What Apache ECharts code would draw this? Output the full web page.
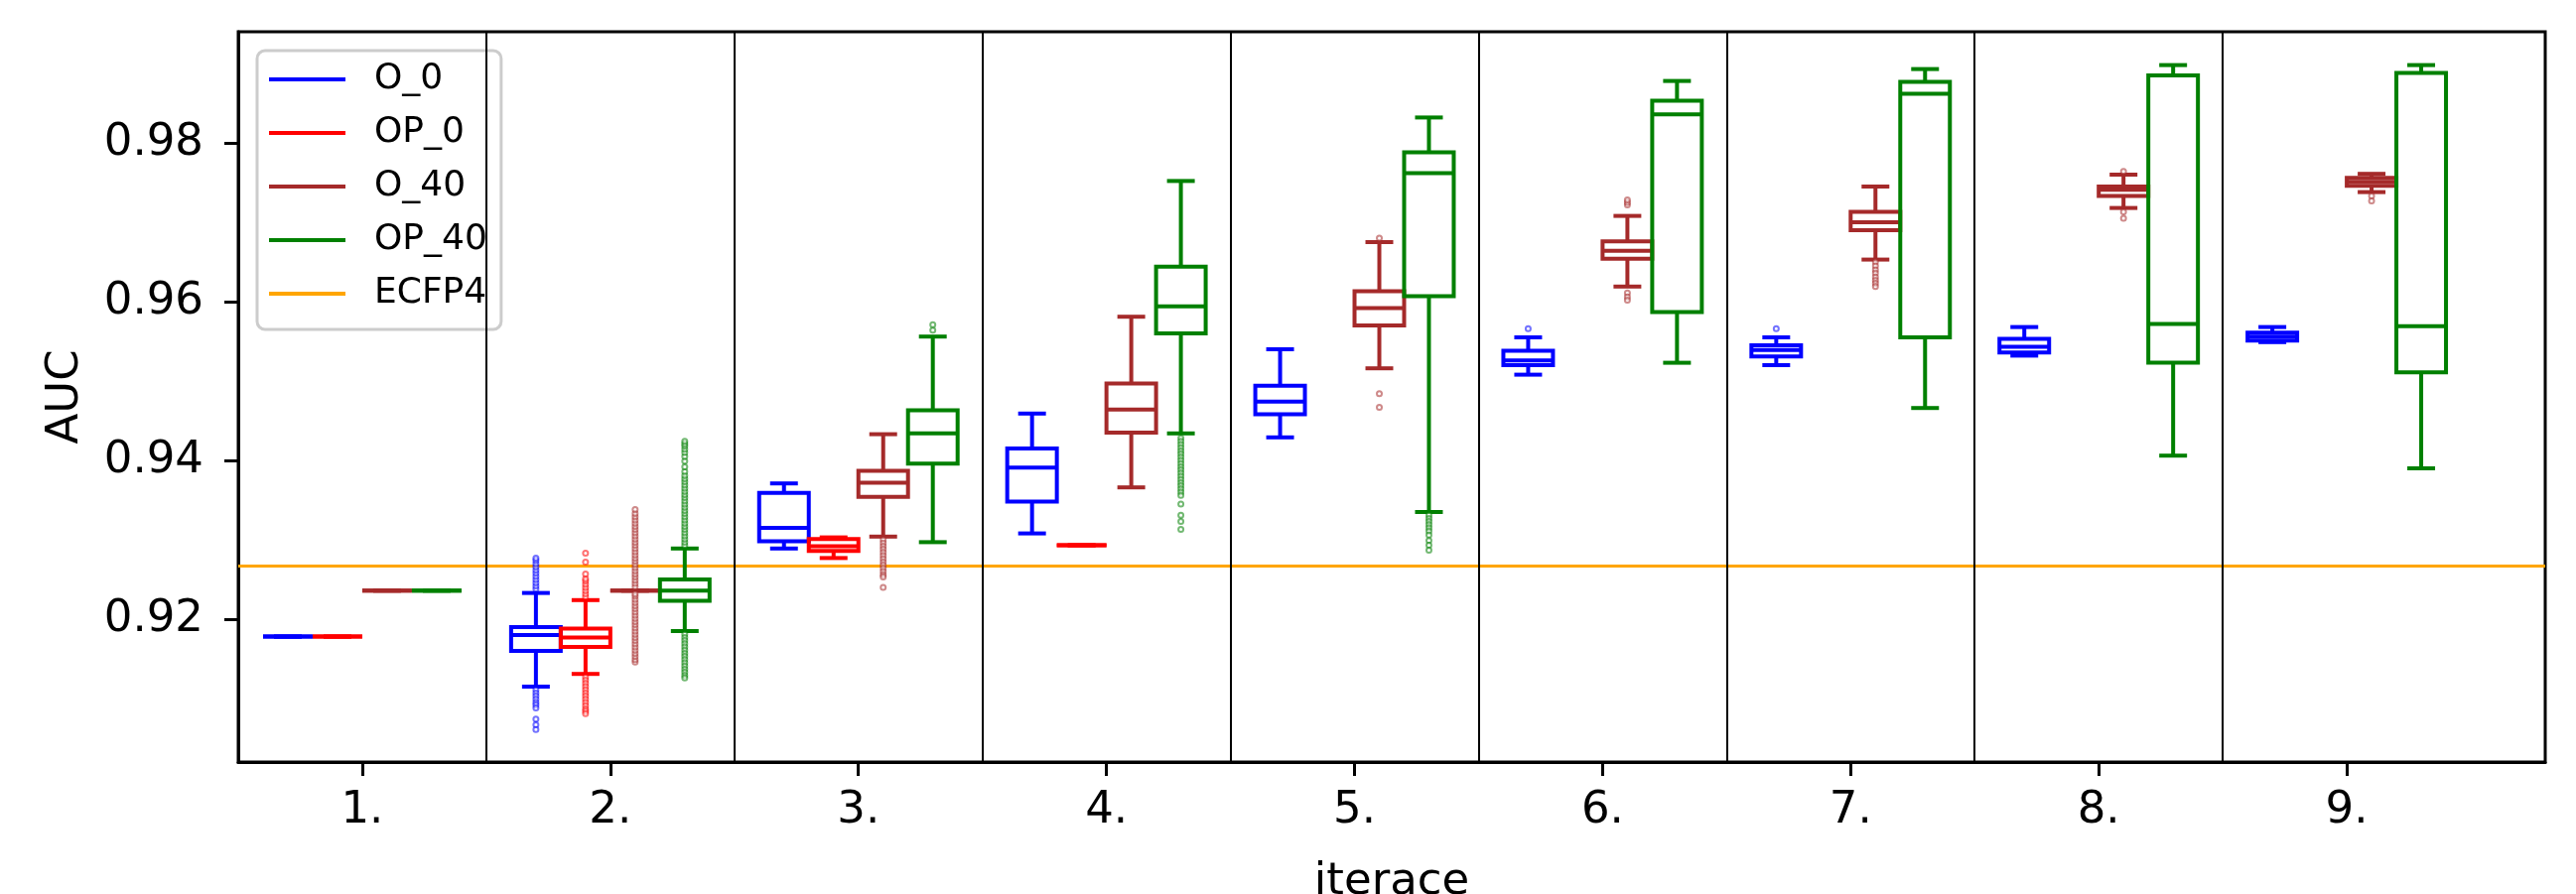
<!DOCTYPE html>
<html>
<head>
<meta charset="utf-8">
<title>AUC per iterace</title>
<script src="https://cdn.jsdelivr.net/npm/echarts@6/dist/echarts.min.js"></script>
<style>
  html, body { margin: 0; padding: 0; background: #fff; }
  #chart { width: 2595px; height: 901px; }
</style>
</head>
<body>
<div id="chart"></div>
<script>
// tick labels of the x axis (iterations)
var iterations = [1, 2, 3, 4, 5, 6, 7, 8, 9];
var yTicks = [0.92, 0.94, 0.96, 0.98];
var seriesNames = ['O_0', 'OP_0', 'O_40', 'OP_40'];

// boxes per iteration: [low whisker, Q1, median, Q3, high whisker]
var o0Box = [
  [0.9178, 0.9178, 0.9178, 0.9178, 0.9178],
  [0.9115, 0.9160, 0.9180, 0.9190, 0.9233],
  [0.9289, 0.9298, 0.9315, 0.9359, 0.9371],
  [0.9308, 0.9348, 0.9391, 0.9415, 0.9459],
  [0.9429, 0.9458, 0.9474, 0.9494, 0.9540],
  [0.9508, 0.9520, 0.9526, 0.9538, 0.9555],
  [0.9520, 0.9531, 0.9539, 0.9545, 0.9555],
  [0.9532, 0.9536, 0.9543, 0.9553, 0.9568],
  [0.9549, 0.9551, 0.9556, 0.9561, 0.9568]
];
var op0Box = [
  [0.9178, 0.9178, 0.9178, 0.9178, 0.9178],
  [0.9131, 0.9165, 0.9177, 0.9188, 0.9224],
  [0.9277, 0.9286, 0.9292, 0.9301, 0.9303],
  [0.9293, 0.9293, 0.9293, 0.9293, 0.9293],
  null, null, null, null, null
];
var o40Box = [
  [0.9236, 0.9236, 0.9236, 0.9236, 0.9236],
  [0.9236, 0.9236, 0.9236, 0.9236, 0.9236],
  [0.9304, 0.9354, 0.9372, 0.9387, 0.9433],
  [0.9366, 0.9435, 0.9464, 0.9497, 0.9581],
  [0.9516, 0.9570, 0.9592, 0.9613, 0.9675],
  [0.9619, 0.9654, 0.9664, 0.9676, 0.9708],
  [0.9653, 0.9690, 0.9700, 0.9713, 0.9745],
  [0.9718, 0.9733, 0.9741, 0.9745, 0.9760],
  [0.9738, 0.9746, 0.9751, 0.9756, 0.9761]
];
var op40Box = [
  [0.9236, 0.9236, 0.9236, 0.9236, 0.9236],
  [0.9185, 0.9223, 0.9236, 0.9250, 0.9289],
  [0.9297, 0.9396, 0.9434, 0.9463, 0.9556],
  [0.9434, 0.9560, 0.9594, 0.9644, 0.9752],
  [0.9335, 0.9607, 0.9762, 0.9788, 0.9832],
  [0.9523, 0.9587, 0.9836, 0.9853, 0.9878],
  [0.9466, 0.9555, 0.9862, 0.9877, 0.9893],
  [0.9406, 0.9523, 0.9572, 0.9885, 0.9898],
  [0.9390, 0.9511, 0.9569, 0.9888, 0.9898]
];

// outliers: [iteration, value]
var o0Out = [
  [2, 0.9238], [2, 0.9242], [2, 0.9246], [2, 0.9250], [2, 0.9254], [2, 0.9258],
  [2, 0.9262], [2, 0.9266], [2, 0.9270], [2, 0.9274], [2, 0.9277],
  [2, 0.9111], [2, 0.9107], [2, 0.9103], [2, 0.9099], [2, 0.9095], [2, 0.9092],
  [2, 0.9088], [2, 0.9074], [2, 0.9067], [2, 0.9061],
  [6, 0.9566], [7, 0.9566]
];
var op0Out = [
  [2, 0.9228], [2, 0.9232], [2, 0.9236], [2, 0.9240], [2, 0.9244], [2, 0.9248],
  [2, 0.9251], [2, 0.9257], [2, 0.9272], [2, 0.9283],
  [2, 0.9127], [2, 0.9123], [2, 0.9119], [2, 0.9115], [2, 0.9111], [2, 0.9107],
  [2, 0.9103], [2, 0.9099], [2, 0.9095], [2, 0.9091], [2, 0.9087], [2, 0.9084], [2, 0.9081]
];
var o40Out = [
  [2, 0.9146], [2, 0.9149], [2, 0.9153], [2, 0.9157], [2, 0.9161], [2, 0.9165],
  [2, 0.9169], [2, 0.9173], [2, 0.9177], [2, 0.9181], [2, 0.9185], [2, 0.9189],
  [2, 0.9193], [2, 0.9197], [2, 0.9201], [2, 0.9205], [2, 0.9209], [2, 0.9213],
  [2, 0.9217], [2, 0.9221], [2, 0.9225], [2, 0.9229], [2, 0.9232],
  [2, 0.9241], [2, 0.9245], [2, 0.9249], [2, 0.9253], [2, 0.9257], [2, 0.9261],
  [2, 0.9265], [2, 0.9269], [2, 0.9273], [2, 0.9277], [2, 0.9281], [2, 0.9285],
  [2, 0.9289], [2, 0.9293], [2, 0.9297], [2, 0.9301], [2, 0.9305], [2, 0.9309],
  [2, 0.9313], [2, 0.9317], [2, 0.9321], [2, 0.9325], [2, 0.9329], [2, 0.9333], [2, 0.9338],
  [3, 0.9300], [3, 0.9296], [3, 0.9292], [3, 0.9288], [3, 0.9284], [3, 0.9280],
  [3, 0.9276], [3, 0.9272], [3, 0.9268], [3, 0.9264], [3, 0.9260], [3, 0.9256],
  [3, 0.9253], [3, 0.9240],
  [5, 0.9680], [5, 0.9484], [5, 0.9467],
  [6, 0.9722], [6, 0.9725], [6, 0.9728], [6, 0.9611], [6, 0.9606], [6, 0.9602],
  [7, 0.9650], [7, 0.9645], [7, 0.9640], [7, 0.9636], [7, 0.9631], [7, 0.9627],
  [7, 0.9623], [7, 0.9619],
  [8, 0.9764], [8, 0.9713], [8, 0.9705],
  [9, 0.9733], [9, 0.9727]
];
var op40Out = [
  [2, 0.9293], [2, 0.9297], [2, 0.9301], [2, 0.9305], [2, 0.9309], [2, 0.9313],
  [2, 0.9317], [2, 0.9321], [2, 0.9325], [2, 0.9329], [2, 0.9333], [2, 0.9337],
  [2, 0.9341], [2, 0.9345], [2, 0.9349], [2, 0.9353], [2, 0.9357], [2, 0.9361],
  [2, 0.9365], [2, 0.9369], [2, 0.9373], [2, 0.9377], [2, 0.9381], [2, 0.9386],
  [2, 0.9392], [2, 0.9399], [2, 0.9405], [2, 0.9410], [2, 0.9414], [2, 0.9418],
  [2, 0.9421], [2, 0.9424],
  [2, 0.9181], [2, 0.9177], [2, 0.9173], [2, 0.9169], [2, 0.9165], [2, 0.9161],
  [2, 0.9157], [2, 0.9153], [2, 0.9149], [2, 0.9145], [2, 0.9141], [2, 0.9137],
  [2, 0.9133], [2, 0.9129], [2, 0.9126],
  [3, 0.9564], [3, 0.9571],
  [4, 0.9428], [4, 0.9424], [4, 0.9420], [4, 0.9416], [4, 0.9412], [4, 0.9408],
  [4, 0.9404], [4, 0.9400], [4, 0.9396], [4, 0.9392], [4, 0.9388], [4, 0.9384],
  [4, 0.9380], [4, 0.9376], [4, 0.9372], [4, 0.9368], [4, 0.9364], [4, 0.9360],
  [4, 0.9356], [4, 0.9345], [4, 0.9331], [4, 0.9323], [4, 0.9313],
  [5, 0.9331], [5, 0.9327], [5, 0.9323], [5, 0.9319], [5, 0.9315], [5, 0.9311],
  [5, 0.9306], [5, 0.9299], [5, 0.9293], [5, 0.9287]
];

var ecfp4 = 0.9267;
var dividers = [1.5, 2.5, 3.5, 4.5, 5.5, 6.5, 7.5, 8.5];

var boxData = [o0Box, op0Box, o40Box, op40Box];
var outData = [o0Out, op0Out, o40Out, op40Out];
var colors = ['#0000ff', '#ff0000', '#a52a2a', '#008000'];
var offsets = [-0.3, -0.1, 0.1, 0.3];
var boxWidth = 0.2;
var FONT = 'DejaVu Sans';

var chart = echarts.init(document.getElementById('chart'), null, {renderer: 'canvas'});

function renderBox(params, api) {
  var x = api.value(0);
  var low = api.coord([x, api.value(1)]);
  var q1 = api.coord([x, api.value(2)]);
  var med = api.coord([x, api.value(3)]);
  var q3 = api.coord([x, api.value(4)]);
  var high = api.coord([x, api.value(5)]);
  var w = api.size([boxWidth, 0])[0];
  var cw = w * 0.56;
  var cx = low[0];
  var st = {stroke: api.visual('color'), lineWidth: 4, fill: null, lineCap: 'butt'};
  return {
    type: 'group',
    children: [
      {type: 'line', shape: {x1: cx, y1: low[1], x2: cx, y2: q1[1]}, style: st},
      {type: 'line', shape: {x1: cx, y1: q3[1], x2: cx, y2: high[1]}, style: st},
      {type: 'line', shape: {x1: cx - cw / 2, y1: low[1], x2: cx + cw / 2, y2: low[1]}, style: st},
      {type: 'line', shape: {x1: cx - cw / 2, y1: high[1], x2: cx + cw / 2, y2: high[1]}, style: st},
      {type: 'rect', shape: {x: cx - w / 2, y: q3[1], width: w, height: q1[1] - q3[1]}, style: st},
      {type: 'line', shape: {x1: cx - w / 2, y1: med[1], x2: cx + w / 2, y2: med[1]}, style: st}
    ]
  };
}

var series = [];
seriesNames.forEach(function (name, k) {
  var data = [];
  boxData[k].forEach(function (b, i) {
    if (b) data.push([iterations[i] + offsets[k]].concat(b));
  });
  series.push({
    name: name,
    type: 'custom',
    renderItem: renderBox,
    itemStyle: {color: colors[k]},
    encode: {x: 0, y: [1, 2, 3, 4, 5]},
    data: data,
    z: 3
  });
});
seriesNames.forEach(function (name, k) {
  series.push({
    name: name + ' outliers',
    type: 'scatter',
    symbol: 'emptyCircle',
    symbolSize: 5,
    itemStyle: {color: colors[k], borderColor: colors[k], borderWidth: 1, opacity: 0.55},
    data: outData[k].map(function (p) { return [p[0] + offsets[k], p[1]]; }),
    z: 3
  });
});
series.push({
  name: 'ECFP4',
  type: 'line',
  symbol: 'none',
  lineStyle: {color: '#ffa500', width: 3},
  itemStyle: {color: '#ffa500'},
  data: [[0.5, ecfp4], [9.8, ecfp4]],
  z: 2,
  markLine: {
    silent: true,
    symbol: ['none', 'none'],
    label: {show: false},
    lineStyle: {color: '#000', width: 2, type: 'solid'},
    data: dividers.map(function (d) { return {xAxis: d}; })
  }
});

var option = {
  animation: false,
  backgroundColor: '#fff',
  textStyle: {fontFamily: FONT},
  grid: {
    left: 240, right: 31, top: 32, bottom: 133,
    outerBoundsMode: 'none',
    containLabel: false,
    show: true, borderColor: '#000', borderWidth: 3, backgroundColor: 'transparent'
  },
  legend: {
    orient: 'vertical',
    left: 259,
    top: 51,
    data: seriesNames.concat(['ECFP4']),
    icon: 'rect',
    itemWidth: 77,
    itemHeight: 4,
    itemGap: 18,
    padding: [11, 14, 18, 12],
    backgroundColor: 'rgba(255,255,255,0.8)',
    borderColor: '#cccccc',
    borderWidth: 3,
    borderRadius: 8,
    selectedMode: false,
    textStyle: {fontFamily: FONT, fontSize: 36, lineHeight: 36, color: '#000', padding: [0, 0, 0, 24]}
  },
  xAxis: {
    type: 'value',
    min: 0.5,
    max: 9.8,
    name: 'iterace',
    nameLocation: 'middle',
    nameGap: 99,
    nameTextStyle: {fontFamily: FONT, fontSize: 45, color: '#000'},
    axisLine: {show: true, lineStyle: {color: '#000', width: 3}},
    axisTick: {show: true, length: 14, lineStyle: {color: '#000', width: 3}, customValues: iterations},
    axisLabel: {
      customValues: iterations,
      fontFamily: FONT, fontSize: 45, color: '#000', margin: 27,
      formatter: function (v) { return v + '.'; }
    },
    splitLine: {show: false}
  },
  yAxis: {
    type: 'value',
    min: 0.902,
    max: 0.994,
    name: 'AUC',
    nameLocation: 'middle',
    nameGap: 151,
    nameRotate: 90,
    nameTextStyle: {fontFamily: FONT, fontSize: 45, color: '#000'},
    axisLine: {show: true, lineStyle: {color: '#000', width: 3}},
    axisTick: {show: true, length: 14, lineStyle: {color: '#000', width: 3}, customValues: yTicks},
    axisLabel: {
      customValues: yTicks,
      fontFamily: FONT, fontSize: 45, color: '#000', margin: 35,
      formatter: function (v) { return v.toFixed(2); }
    },
    splitLine: {show: false}
  },
  series: series
};

chart.setOption(option);
</script>
</body>
</html>
